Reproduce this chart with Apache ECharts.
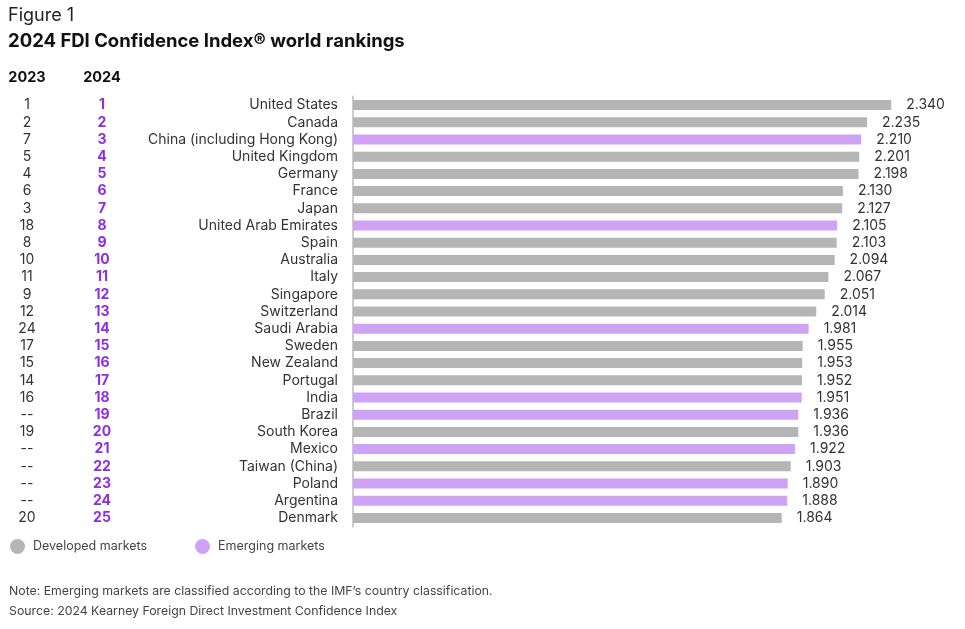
<!DOCTYPE html>
<html>
<head>
<meta charset="utf-8">
<script src="https://cdn.jsdelivr.net/npm/echarts@6/dist/echarts.min.js"></script>
<style>
  html, body { margin: 0; padding: 0; background: #fff; }
  #main { width: 965px; height: 629px; }
</style>
</head>
<body>
<div id="main"></div>
<script>
// data
const countries = ['United States', 'Canada', 'China (including Hong Kong)', 'United Kingdom', 'Germany',
  'France', 'Japan', 'United Arab Emirates', 'Spain', 'Australia', 'Italy', 'Singapore', 'Switzerland',
  'Saudi Arabia', 'Sweden', 'New Zealand', 'Portugal', 'India', 'Brazil', 'South Korea', 'Mexico',
  'Taiwan (China)', 'Poland', 'Argentina', 'Denmark'];
const scores = [2.340, 2.235, 2.210, 2.201, 2.198, 2.130, 2.127, 2.105, 2.103, 2.094, 2.067, 2.051, 2.014,
  1.981, 1.955, 1.953, 1.952, 1.951, 1.936, 1.936, 1.922, 1.903, 1.890, 1.888, 1.864];
const emerging = ['China (including Hong Kong)', 'United Arab Emirates', 'Saudi Arabia', 'India', 'Brazil',
  'Mexico', 'Poland', 'Argentina'];
const rank2023 = ['1', '2', '7', '5', '4', '6', '3', '18', '8', '10', '11', '9', '12', '24', '17', '15', '14',
  '16', '--', '19', '--', '--', '--', '--', '20'];
const rank2024 = ['1', '2', '3', '4', '5', '6', '7', '8', '9', '10', '11', '12', '13', '14', '15', '16', '17',
  '18', '19', '20', '21', '22', '23', '24', '25'];

const GRAY = '#b5b5b5';
const PURPLE = '#cfa3f3';
const FONT = 'Inter, "Noto Sans", sans-serif';

const developedData = scores.map((v, i) => emerging.includes(countries[i]) ? '-' : v);
const emergingData = scores.map((v, i) => emerging.includes(countries[i]) ? v : '-');

const chart = echarts.init(document.getElementById('main'));

const barLabel = {
  show: true,
  position: 'right',
  distance: 15,
  color: '#333',
  fontSize: 14,
  fontFamily: FONT,
  formatter: p => p.value.toFixed(3)
};

const option = {
  animation: false,
  textStyle: { fontFamily: FONT },
  title: [
    { text: 'Figure 1', left: 3, top: 2, textStyle: { fontSize: 18, fontWeight: 'normal', color: '#222', fontFamily: FONT } },
    { text: '2024 FDI Confidence Index® world rankings', left: 3, top: 27, textStyle: { fontSize: 18.5, fontWeight: 'bold', color: '#111', fontFamily: FONT } }
  ],
  graphic: [
    { type: 'text', x: 27, y: 78, style: { text: '2023', align: 'center', verticalAlign: 'middle', font: 'bold 14.5px ' + FONT, fill: '#111' } },
    { type: 'text', x: 102, y: 78, style: { text: '2024', align: 'center', verticalAlign: 'middle', font: 'bold 14.5px ' + FONT, fill: '#111' } },
    { type: 'text', x: 9, y: 591, style: { text: 'Note: Emerging markets are classified according to the IMF\u2019s country classification.', verticalAlign: 'middle', font: '12.3px ' + FONT, fill: '#444' } },
    { type: 'text', x: 9, y: 611, style: { text: 'Source: 2024 Kearney Foreign Direct Investment Confidence Index', verticalAlign: 'middle', font: '12.3px ' + FONT, fill: '#444' } }
  ],
  legend: {
    left: 5,
    top: 534,
    icon: 'circle',
    itemWidth: 15,
    itemHeight: 15,
    itemGap: 48,
    textStyle: { fontSize: 12.5, color: '#444', fontFamily: FONT, padding: [0, 0, 0, 3] },
    data: ['Developed markets', 'Emerging markets']
  },
  grid: { left: 353, right: 14, top: 96.5, height: 430, containLabel: false },
  xAxis: { type: 'value', min: 0, max: 2.6, show: false },
  yAxis: [
    {
      type: 'category', data: countries, inverse: true,
      axisLine: { show: true, lineStyle: { color: '#cccccc', width: 2 } },
      axisTick: { show: false },
      axisLabel: { interval: 0, margin: 15, color: '#333', fontSize: 14, fontFamily: FONT }
    },
    {
      type: 'category', data: rank2023, inverse: true, position: 'left', offset: 326,
      axisLine: { show: false }, axisTick: { show: false },
      axisLabel: { interval: 0, margin: 0, align: 'center', color: '#333', fontSize: 14, fontFamily: FONT }
    },
    {
      type: 'category', data: rank2024, inverse: true, position: 'left', offset: 251,
      axisLine: { show: false }, axisTick: { show: false },
      axisLabel: { interval: 0, margin: 0, align: 'center', color: '#8e2de4', fontSize: 14, fontWeight: 'bold', fontFamily: FONT }
    }
  ],
  series: [
    {
      name: 'Developed markets', type: 'bar', yAxisIndex: 0, data: developedData,
      barWidth: 10, barGap: '-100%', itemStyle: { color: GRAY }, label: barLabel
    },
    {
      name: 'Emerging markets', type: 'bar', yAxisIndex: 0, data: emergingData,
      barWidth: 10, barGap: '-100%', itemStyle: { color: PURPLE }, label: barLabel
    }
  ]
};

chart.setOption(option);
</script>
</body>
</html>
